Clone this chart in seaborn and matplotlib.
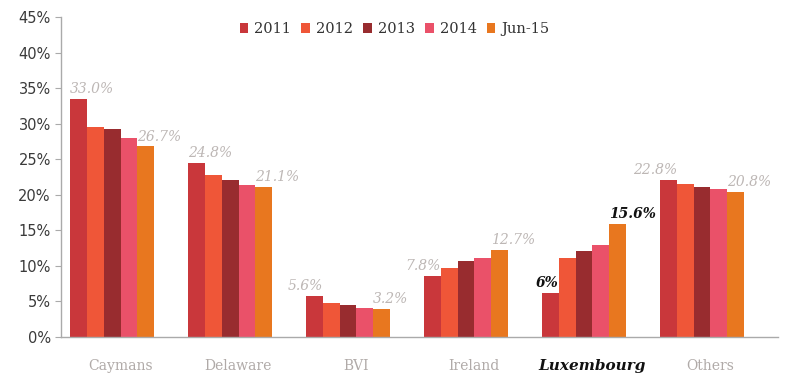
import numpy as np
import pandas as pd
import matplotlib
matplotlib.use("Agg")
import matplotlib.pyplot as plt
import seaborn as sns

# data
regions = ["Caymans", "Delaware", "BVI", "Ireland", "Luxembourg", "Others"]
periods = ["2011", "2012", "2013", "2014", "Jun-15"]
share_2011 = [33.5, 24.5, 5.8, 8.6, 6.2, 22.1]
share_2012 = [29.5, 22.8, 4.8, 9.7, 11.1, 21.5]
share_2013 = [29.3, 22.1, 4.5, 10.7, 12.1, 21.1]
share_2014 = [28.0, 21.4, 4.1, 11.1, 13.0, 20.8]
share_jun15 = [26.8, 21.1, 3.9, 12.3, 15.9, 20.4]
first_labels = ["33.0%", "24.8%", "5.6%", "7.8%", "6%", "22.8%"]
last_labels = ["26.7%", "21.1%", "3.2%", "12.7%", "15.6%", "20.8%"]

colors = ["#c9373b", "#ef5638", "#982c2f", "#ea5169", "#e8771f"]

rows = []
for p, vals in zip(periods, [share_2011, share_2012, share_2013, share_2014, share_jun15]):
    for r, v in zip(regions, vals):
        rows.append({"Region": r, "Period": p, "Share": v})
df = pd.DataFrame(rows)

sns.set_style("white")
fig = plt.figure(figsize=(7.85, 3.73), dpi=100)
ax = fig.add_axes([0.078, 0.0965, 0.913, 0.858])

sns.barplot(data=df, x="Region", y="Share", hue="Period", palette=colors,
            width=0.71, saturation=1, linewidth=0, ax=ax, errorbar=None)

ax.set_ylim(0, 45)
ax.set_xlim(-0.432, 5.644)
ax.set_yticks(np.arange(0, 46, 5))
ax.set_yticklabels([f"{v}%" for v in range(0, 46, 5)], fontsize=10.5, color="#3a3a3a")
ax.set_xlabel("")
ax.set_ylabel("")

# category labels, boundary ticks
ax.set_xticks(np.arange(len(regions)) + 0.07)
ax.set_xticklabels(regions, family="DejaVu Serif", fontsize=10, color="#b0aaa8")
ax.set_xticks(np.arange(len(regions) + 1) - 0.432, minor=True)
ax.tick_params(axis="x", which="major", length=0, pad=16)
ax.tick_params(axis="x", which="minor", length=4, color="#aaaaaa", direction="out")
ax.tick_params(axis="y", length=4, color="#aaaaaa", direction="out", left=True)
for lab in ax.get_xticklabels():
    if lab.get_text() == "Luxembourg":
        lab.set_color("#111111")
        lab.set_fontweight("bold")
        lab.set_fontstyle("italic")
        lab.set_fontsize(11)

for s in ["top", "right"]:
    ax.spines[s].set_visible(False)
for s in ["left", "bottom"]:
    ax.spines[s].set_color("#aaaaaa")
    ax.spines[s].set_linewidth(1)

# value labels on first and last bars
first_bars = ax.containers[0]
last_bars = ax.containers[-1]
for i, r in enumerate(regions):
    lux = r == "Luxembourg"
    style = dict(family="DejaVu Serif", style="italic", fontsize=10,
                 color="#111111" if lux else "#bdb7b5",
                 fontweight="bold" if lux else "normal")
    b = first_bars[i]
    if i < 2:
        x, ha = b.get_x(), "left"
    else:
        x, ha = b.get_x() + b.get_width(), "right"
    ax.annotate(first_labels[i], (x, b.get_height()), xytext=(0, 2),
                textcoords="offset points", ha=ha, va="bottom", **style)
    b = last_bars[i]
    ax.annotate(last_labels[i], (b.get_x(), b.get_height()), xytext=(0, 2),
                textcoords="offset points", ha="left", va="bottom", **style)

leg = ax.legend(loc="upper center", bbox_to_anchor=(0.465, 1.025), ncol=5, frameon=False,
                handlelength=0.6, handleheight=0.6, handletextpad=0.4, columnspacing=0.7,
                prop={"family": "DejaVu Serif", "size": 10.5})
for t in leg.get_texts():
    t.set_color("#333333")

fig.savefig("out.png", dpi=100)
